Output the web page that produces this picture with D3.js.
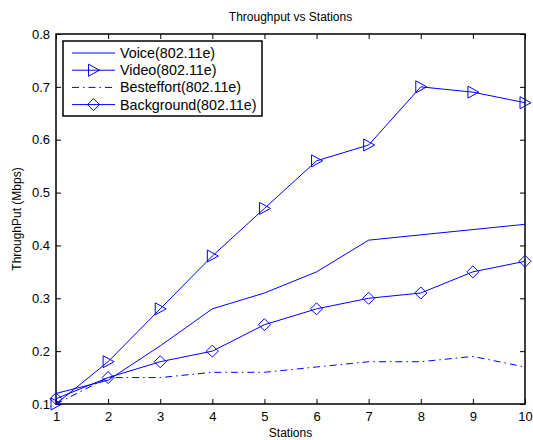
<!DOCTYPE html>
<html>
<head>
<meta charset="utf-8">
<script src="https://cdn.jsdelivr.net/npm/d3@7"></script>
<style>
  body { margin: 0; background: #fff; }
  text { font-family: "Liberation Sans", Arial, sans-serif; }
</style>
</head>
<body>
<svg id="chart" width="533" height="440"></svg>
<script>
// data
const stations = [1, 2, 3, 4, 5, 6, 7, 8, 9, 10];
const voice = [0.12, 0.145, 0.21, 0.28, 0.31, 0.35, 0.41, 0.42, 0.43, 0.44];
const video = [0.10, 0.18, 0.28, 0.38, 0.47, 0.56, 0.59, 0.70, 0.69, 0.67];
const besteffort = [0.10, 0.15, 0.15, 0.16, 0.16, 0.17, 0.18, 0.18, 0.19, 0.17];
const background = [0.11, 0.15, 0.18, 0.20, 0.25, 0.28, 0.30, 0.31, 0.35, 0.37];
const yTicks = [0.1, 0.2, 0.3, 0.4, 0.5, 0.6, 0.7, 0.8];
const seriesNames = ["Voice(802.11e)", "Video(802.11e)", "Besteffort(802.11e)", "Background(802.11e)"];

const margin = { left: 56, right: 8, top: 34, bottom: 36 };
const width = 533 - margin.left - margin.right;
const height = 440 - margin.top - margin.bottom;
const blue = "#0000ff";

const svg = d3.select("#chart");
const g = svg.append("g").attr("transform", `translate(${margin.left}, ${margin.top})`);

const xScale = d3.scaleLinear().domain([1, 10]).range([0, width]);
const yScale = d3.scaleLinear().domain([0.1, 0.8]).range([height, 0]);

// axes (ticks pointing inward, MATLAB style)
const tickLen = 5;
g.append("g")
  .attr("transform", `translate(0, ${height})`)
  .call(d3.axisBottom(xScale).tickValues(stations).tickFormat(d3.format("d")).tickSize(-tickLen).tickPadding(8))
  .call(a => a.select(".domain").remove());
g.append("g")
  .call(d3.axisTop(xScale).tickValues(stations).tickFormat("").tickSize(-tickLen))
  .call(a => a.select(".domain").remove());
g.append("g")
  .call(d3.axisLeft(yScale).tickValues(yTicks).tickFormat(d => d3.format(".1f")(d)).tickSize(-tickLen).tickPadding(6))
  .call(a => a.select(".domain").remove());
g.append("g")
  .attr("transform", `translate(${width}, 0)`)
  .call(d3.axisRight(yScale).tickValues(yTicks).tickFormat("").tickSize(-tickLen))
  .call(a => a.select(".domain").remove());

g.selectAll(".tick text").attr("font-size", 13).attr("fill", "#000");
g.selectAll(".tick line").attr("stroke", "#000");

g.append("rect")
  .attr("width", width).attr("height", height)
  .attr("fill", "none").attr("stroke", "#000").attr("stroke-width", 1.5);

// lines
const line = d3.line()
  .x((d, i) => xScale(stations[i]))
  .y(d => yScale(d));

const triangle = "M-5,-6L6,0L-5,6Z";
const diamond = "M0,-6L6,0L0,6L-6,0Z";

const series = [
  { name: seriesNames[0], values: voice, dash: null, marker: null },
  { name: seriesNames[1], values: video, dash: null, marker: triangle },
  { name: seriesNames[2], values: besteffort, dash: "7,4,1.5,4", marker: null },
  { name: seriesNames[3], values: background, dash: null, marker: diamond }
];

series.forEach(s => {
  g.append("path")
    .datum(s.values)
    .attr("d", line)
    .attr("fill", "none")
    .attr("stroke", blue)
    .attr("stroke-width", 1)
    .attr("stroke-dasharray", s.dash);
  if (s.marker) {
    g.selectAll(null)
      .data(s.values)
      .enter().append("path")
      .attr("d", s.marker)
      .attr("transform", (d, i) => `translate(${xScale(stations[i])}, ${yScale(d)})`)
      .attr("fill", "none")
      .attr("stroke", blue);
  }
});

// legend
const legend = g.append("g").attr("transform", "translate(7, 7)");
legend.append("rect")
  .attr("width", 199).attr("height", 75)
  .attr("fill", "#fff").attr("stroke", "#000").attr("stroke-width", 1.5);
series.forEach((s, i) => {
  const y = 12 + i * 17.2;
  legend.append("line")
    .attr("x1", 9).attr("x2", 52).attr("y1", y).attr("y2", y)
    .attr("stroke", blue).attr("stroke-dasharray", s.dash);
  if (s.marker) {
    legend.append("path").attr("d", s.marker)
      .attr("transform", `translate(30.5, ${y})`)
      .attr("fill", "none").attr("stroke", blue);
  }
  legend.append("text")
    .attr("x", 57).attr("y", y + 5)
    .attr("font-size", 14.3)
    .text(s.name);
});

// titles
svg.append("text")
  .attr("x", margin.left + width / 2).attr("y", 21)
  .attr("text-anchor", "middle").attr("font-size", 12)
  .text("Throughput vs Stations");
svg.append("text")
  .attr("x", margin.left + width / 2).attr("y", 437)
  .attr("text-anchor", "middle").attr("font-size", 12)
  .text("Stations");
svg.append("text")
  .attr("transform", `translate(21, ${margin.top + height / 2}) rotate(-90)`)
  .attr("text-anchor", "middle").attr("font-size", 12)
  .text("ThroughPut (Mbps)");
</script>
</body>
</html>
